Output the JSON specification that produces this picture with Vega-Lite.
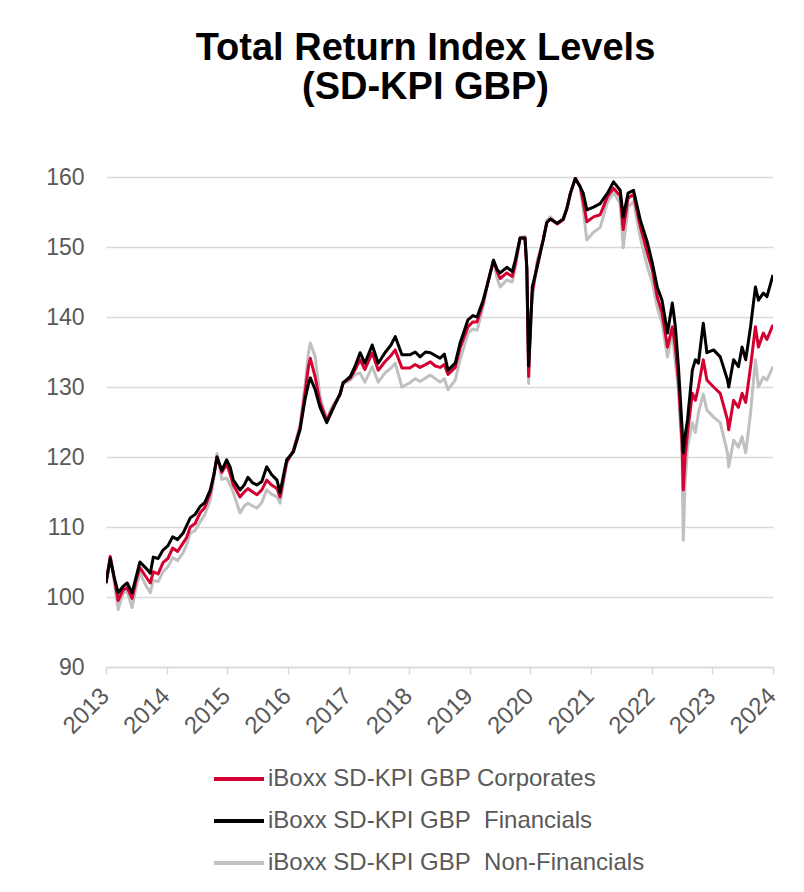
{
  "$schema": "https://vega.github.io/schema/vega-lite/v6.json",
  "width": 667,
  "height": 490,
  "autosize": "none",
  "padding": {"left": 106, "top": 177, "right": 31, "bottom": 225},
  "background": "#ffffff",
  "title": {
    "text": ["Total Return Index Levels", "(SD-KPI GBP)"],
    "font": "Liberation Sans",
    "fontSize": 38,
    "fontWeight": "bold",
    "color": "#000000",
    "lineHeight": 39,
    "anchor": "middle",
    "offset": 59,
    "dx": -14
  },
  "data": {
    "values": [
      {"t": 2013.00, "Fin": 102.0, "Corp": 102.0, "NonFin": 101.8},
      {"t": 2013.07, "Fin": 105.5, "Corp": 105.8, "NonFin": 105.8},
      {"t": 2013.13, "Fin": 103.0, "Corp": 103.0, "NonFin": 102.5},
      {"t": 2013.20, "Fin": 100.6, "Corp": 99.5, "NonFin": 98.2},
      {"t": 2013.28, "Fin": 101.5, "Corp": 101.0, "NonFin": 100.5},
      {"t": 2013.35, "Fin": 102.0, "Corp": 101.3, "NonFin": 100.8},
      {"t": 2013.43, "Fin": 100.6, "Corp": 99.8, "NonFin": 98.5},
      {"t": 2013.50, "Fin": 103.0, "Corp": 102.5, "NonFin": 101.5},
      {"t": 2013.56, "Fin": 105.0, "Corp": 104.2, "NonFin": 103.4},
      {"t": 2013.65, "Fin": 104.2, "Corp": 103.0, "NonFin": 101.8},
      {"t": 2013.73, "Fin": 103.4, "Corp": 102.0, "NonFin": 100.6},
      {"t": 2013.78, "Fin": 105.7, "Corp": 103.6, "NonFin": 102.4},
      {"t": 2013.86, "Fin": 105.5, "Corp": 103.3, "NonFin": 102.2},
      {"t": 2013.94, "Fin": 106.7, "Corp": 104.9, "NonFin": 103.6},
      {"t": 2014.02, "Fin": 107.3, "Corp": 105.5, "NonFin": 104.3},
      {"t": 2014.10, "Fin": 108.6, "Corp": 107.0, "NonFin": 105.6},
      {"t": 2014.18, "Fin": 108.2, "Corp": 106.5, "NonFin": 105.2},
      {"t": 2014.27, "Fin": 109.1, "Corp": 107.7, "NonFin": 106.3},
      {"t": 2014.33, "Fin": 110.2, "Corp": 108.5, "NonFin": 107.5},
      {"t": 2014.39, "Fin": 111.3, "Corp": 110.0, "NonFin": 109.1},
      {"t": 2014.47, "Fin": 111.8, "Corp": 110.5, "NonFin": 109.5},
      {"t": 2014.55, "Fin": 112.9, "Corp": 112.0, "NonFin": 110.7},
      {"t": 2014.63, "Fin": 113.5, "Corp": 112.8, "NonFin": 111.8},
      {"t": 2014.72, "Fin": 115.3, "Corp": 114.9, "NonFin": 113.9},
      {"t": 2014.78, "Fin": 117.5, "Corp": 117.5, "NonFin": 117.0},
      {"t": 2014.83, "Fin": 120.0, "Corp": 120.0, "NonFin": 120.5},
      {"t": 2014.91, "Fin": 118.1, "Corp": 117.8, "NonFin": 116.8},
      {"t": 2014.99, "Fin": 119.6, "Corp": 119.0, "NonFin": 117.0},
      {"t": 2015.05, "Fin": 118.5, "Corp": 117.5, "NonFin": 116.0},
      {"t": 2015.10, "Fin": 116.7, "Corp": 116.0, "NonFin": 114.9},
      {"t": 2015.21, "Fin": 115.3, "Corp": 114.3, "NonFin": 112.0},
      {"t": 2015.28, "Fin": 116.0, "Corp": 115.0, "NonFin": 113.0},
      {"t": 2015.34, "Fin": 117.1, "Corp": 115.5, "NonFin": 113.4},
      {"t": 2015.42, "Fin": 116.3, "Corp": 115.0, "NonFin": 113.0},
      {"t": 2015.49, "Fin": 116.0, "Corp": 114.6, "NonFin": 112.7},
      {"t": 2015.57, "Fin": 116.5, "Corp": 115.3, "NonFin": 113.5},
      {"t": 2015.65, "Fin": 118.6, "Corp": 116.7, "NonFin": 115.3},
      {"t": 2015.73, "Fin": 117.5, "Corp": 116.0, "NonFin": 114.7},
      {"t": 2015.82, "Fin": 116.7, "Corp": 115.5, "NonFin": 114.3},
      {"t": 2015.87, "Fin": 114.9, "Corp": 114.3, "NonFin": 113.4},
      {"t": 2015.93, "Fin": 117.5, "Corp": 117.0, "NonFin": 116.5},
      {"t": 2015.98, "Fin": 119.6, "Corp": 119.3, "NonFin": 119.0},
      {"t": 2016.09, "Fin": 120.7, "Corp": 120.9, "NonFin": 121.0},
      {"t": 2016.20, "Fin": 123.9, "Corp": 124.2, "NonFin": 124.5},
      {"t": 2016.28, "Fin": 128.1, "Corp": 129.0, "NonFin": 130.0},
      {"t": 2016.34, "Fin": 130.5, "Corp": 133.0, "NonFin": 135.0},
      {"t": 2016.37, "Fin": 131.3, "Corp": 134.1, "NonFin": 136.3},
      {"t": 2016.45, "Fin": 129.6, "Corp": 131.4, "NonFin": 134.3},
      {"t": 2016.53, "Fin": 127.1, "Corp": 127.8, "NonFin": 128.5},
      {"t": 2016.64, "Fin": 124.9, "Corp": 125.2, "NonFin": 125.5},
      {"t": 2016.75, "Fin": 127.0, "Corp": 127.2, "NonFin": 127.5},
      {"t": 2016.86, "Fin": 129.0, "Corp": 129.0, "NonFin": 128.8},
      {"t": 2016.91, "Fin": 130.6, "Corp": 130.6, "NonFin": 130.4},
      {"t": 2017.03, "Fin": 131.5, "Corp": 131.3, "NonFin": 131.0},
      {"t": 2017.11, "Fin": 133.0, "Corp": 132.5, "NonFin": 131.8},
      {"t": 2017.19, "Fin": 134.9, "Corp": 133.9, "NonFin": 132.0},
      {"t": 2017.27, "Fin": 133.4, "Corp": 132.5, "NonFin": 130.7},
      {"t": 2017.39, "Fin": 136.0, "Corp": 134.9, "NonFin": 132.9},
      {"t": 2017.49, "Fin": 133.4, "Corp": 132.4, "NonFin": 130.7},
      {"t": 2017.60, "Fin": 134.9, "Corp": 133.6, "NonFin": 132.0},
      {"t": 2017.70, "Fin": 136.0, "Corp": 134.5, "NonFin": 132.7},
      {"t": 2017.77, "Fin": 137.2, "Corp": 135.3, "NonFin": 133.4},
      {"t": 2017.88, "Fin": 134.6, "Corp": 132.7, "NonFin": 130.0},
      {"t": 2018.01, "Fin": 134.6, "Corp": 132.7, "NonFin": 130.6},
      {"t": 2018.10, "Fin": 135.0, "Corp": 133.2, "NonFin": 131.2},
      {"t": 2018.18, "Fin": 134.3, "Corp": 132.8, "NonFin": 130.8},
      {"t": 2018.27, "Fin": 135.0, "Corp": 133.2, "NonFin": 131.3},
      {"t": 2018.35, "Fin": 134.9, "Corp": 133.6, "NonFin": 131.7},
      {"t": 2018.43, "Fin": 134.5, "Corp": 133.0, "NonFin": 131.2},
      {"t": 2018.51, "Fin": 134.1, "Corp": 132.8, "NonFin": 130.7},
      {"t": 2018.58, "Fin": 134.7, "Corp": 133.2, "NonFin": 131.2},
      {"t": 2018.64, "Fin": 132.4, "Corp": 131.8, "NonFin": 129.6},
      {"t": 2018.76, "Fin": 133.4, "Corp": 132.8, "NonFin": 131.0},
      {"t": 2018.84, "Fin": 136.3, "Corp": 135.6, "NonFin": 133.9},
      {"t": 2018.97, "Fin": 139.6, "Corp": 138.6, "NonFin": 137.7},
      {"t": 2019.05, "Fin": 140.2, "Corp": 139.3, "NonFin": 138.3},
      {"t": 2019.12, "Fin": 140.0, "Corp": 139.3, "NonFin": 138.1},
      {"t": 2019.22, "Fin": 142.4, "Corp": 142.0, "NonFin": 141.5},
      {"t": 2019.30, "Fin": 145.0, "Corp": 145.0, "NonFin": 145.0},
      {"t": 2019.39, "Fin": 148.1, "Corp": 148.1, "NonFin": 148.0},
      {"t": 2019.45, "Fin": 146.8, "Corp": 146.5, "NonFin": 145.5},
      {"t": 2019.50, "Fin": 146.3, "Corp": 145.5, "NonFin": 144.3},
      {"t": 2019.61, "Fin": 147.1, "Corp": 146.3, "NonFin": 145.3},
      {"t": 2019.70, "Fin": 146.5, "Corp": 145.8, "NonFin": 145.0},
      {"t": 2019.75, "Fin": 148.1, "Corp": 147.6, "NonFin": 147.0},
      {"t": 2019.83, "Fin": 151.3, "Corp": 151.3, "NonFin": 151.3},
      {"t": 2019.91, "Fin": 151.3, "Corp": 151.3, "NonFin": 151.5},
      {"t": 2019.94, "Fin": 147.0, "Corp": 147.0, "NonFin": 147.0},
      {"t": 2019.97, "Fin": 133.0, "Corp": 131.5, "NonFin": 130.5},
      {"t": 2020.00, "Fin": 138.0, "Corp": 139.0, "NonFin": 140.0},
      {"t": 2020.03, "Fin": 144.3, "Corp": 143.5, "NonFin": 142.5},
      {"t": 2020.11, "Fin": 147.1, "Corp": 147.5, "NonFin": 148.0},
      {"t": 2020.21, "Fin": 151.0, "Corp": 151.0, "NonFin": 151.0},
      {"t": 2020.27, "Fin": 153.5, "Corp": 153.5, "NonFin": 153.8},
      {"t": 2020.33, "Fin": 154.0, "Corp": 154.0, "NonFin": 154.3},
      {"t": 2020.44, "Fin": 153.4, "Corp": 153.3, "NonFin": 153.3},
      {"t": 2020.54, "Fin": 154.0, "Corp": 153.9, "NonFin": 153.9},
      {"t": 2020.60, "Fin": 155.5, "Corp": 155.5, "NonFin": 155.3},
      {"t": 2020.66, "Fin": 157.7, "Corp": 157.7, "NonFin": 157.7},
      {"t": 2020.74, "Fin": 159.8, "Corp": 159.8, "NonFin": 160.0},
      {"t": 2020.82, "Fin": 158.6, "Corp": 158.6, "NonFin": 158.6},
      {"t": 2020.87, "Fin": 157.7, "Corp": 156.5, "NonFin": 155.3},
      {"t": 2020.93, "Fin": 155.3, "Corp": 153.6, "NonFin": 151.0},
      {"t": 2021.04, "Fin": 155.7, "Corp": 154.3, "NonFin": 152.1},
      {"t": 2021.15, "Fin": 156.2, "Corp": 154.6, "NonFin": 152.8},
      {"t": 2021.27, "Fin": 157.7, "Corp": 157.2, "NonFin": 156.4},
      {"t": 2021.37, "Fin": 159.3, "Corp": 158.4, "NonFin": 157.8},
      {"t": 2021.48, "Fin": 158.1, "Corp": 157.3, "NonFin": 156.2},
      {"t": 2021.53, "Fin": 154.3, "Corp": 152.5, "NonFin": 149.9},
      {"t": 2021.61, "Fin": 157.7, "Corp": 157.0, "NonFin": 155.7},
      {"t": 2021.70, "Fin": 158.1, "Corp": 157.5, "NonFin": 156.5},
      {"t": 2021.81, "Fin": 153.9, "Corp": 153.0, "NonFin": 151.4},
      {"t": 2021.93, "Fin": 150.6, "Corp": 149.1, "NonFin": 147.1},
      {"t": 2022.01, "Fin": 147.7, "Corp": 146.7, "NonFin": 144.9},
      {"t": 2022.09, "Fin": 144.3, "Corp": 142.9, "NonFin": 141.4},
      {"t": 2022.17, "Fin": 142.4, "Corp": 140.6, "NonFin": 139.1},
      {"t": 2022.26, "Fin": 137.7, "Corp": 135.7, "NonFin": 134.3},
      {"t": 2022.34, "Fin": 142.0, "Corp": 138.6, "NonFin": 137.7},
      {"t": 2022.39, "Fin": 138.6, "Corp": 135.7, "NonFin": 133.5},
      {"t": 2022.44, "Fin": 132.9, "Corp": 131.0, "NonFin": 129.6},
      {"t": 2022.50, "Fin": 124.3, "Corp": 122.0, "NonFin": 120.6},
      {"t": 2022.52, "Fin": 120.6, "Corp": 115.3, "NonFin": 108.1},
      {"t": 2022.55, "Fin": 123.0, "Corp": 120.0, "NonFin": 116.0},
      {"t": 2022.59, "Fin": 125.3, "Corp": 123.4, "NonFin": 121.4},
      {"t": 2022.67, "Fin": 132.4, "Corp": 129.1, "NonFin": 124.9},
      {"t": 2022.72, "Fin": 133.9, "Corp": 128.1, "NonFin": 123.5},
      {"t": 2022.77, "Fin": 133.4, "Corp": 130.0, "NonFin": 126.3},
      {"t": 2022.85, "Fin": 139.1, "Corp": 133.9, "NonFin": 129.0},
      {"t": 2022.91, "Fin": 134.9, "Corp": 131.0, "NonFin": 126.7},
      {"t": 2023.02, "Fin": 135.3, "Corp": 130.0, "NonFin": 125.7},
      {"t": 2023.13, "Fin": 134.3, "Corp": 129.1, "NonFin": 124.9},
      {"t": 2023.25, "Fin": 131.0, "Corp": 125.3, "NonFin": 120.6},
      {"t": 2023.27, "Fin": 130.0, "Corp": 123.9, "NonFin": 118.6},
      {"t": 2023.35, "Fin": 133.9, "Corp": 128.1, "NonFin": 122.4},
      {"t": 2023.43, "Fin": 132.9, "Corp": 127.1, "NonFin": 121.4},
      {"t": 2023.49, "Fin": 135.7, "Corp": 129.1, "NonFin": 122.9},
      {"t": 2023.55, "Fin": 133.9, "Corp": 127.8, "NonFin": 120.6},
      {"t": 2023.63, "Fin": 138.6, "Corp": 132.9, "NonFin": 126.3},
      {"t": 2023.71, "Fin": 144.3, "Corp": 138.6, "NonFin": 133.9},
      {"t": 2023.76, "Fin": 142.4, "Corp": 135.7, "NonFin": 130.0},
      {"t": 2023.84, "Fin": 143.4, "Corp": 137.7, "NonFin": 131.4},
      {"t": 2023.90, "Fin": 142.9, "Corp": 136.8, "NonFin": 131.0},
      {"t": 2024.00, "Fin": 146.0, "Corp": 138.9, "NonFin": 132.9}
    ]
  },
  "transform": [
    {"fold": ["NonFin", "Corp", "Fin"], "as": ["series", "value"]}
  ],
  "mark": {"type": "line", "strokeWidth": 3, "strokeJoin": "round", "clip": true},
  "encoding": {
    "x": {
      "field": "t",
      "type": "quantitative",
      "scale": {"domain": [2013, 2024], "nice": false, "zero": false},
      "axis": {
        "title": null,
        "values": [2013, 2014, 2015, 2016, 2017, 2018, 2019, 2020, 2021, 2022, 2023, 2024],
        "format": "d",
        "grid": false,
        "domain": true,
        "domainColor": "#d9d9d9",
        "domainWidth": 1.5,
        "ticks": true,
        "tickColor": "#d9d9d9",
        "tickSize": 7,
        "tickWidth": 1.5,
        "labelAngle": -45,
        "labelAlign": "right",
        "labelBaseline": "middle",
        "labelOffset": -1,
        "labelPadding": 18,
        "labelFont": "Liberation Sans",
        "labelFontSize": 24,
        "labelColor": "#595959",
        "labelOverlap": false
      }
    },
    "y": {
      "field": "value",
      "type": "quantitative",
      "scale": {"domain": [90, 160], "nice": false, "zero": false},
      "axis": {
        "title": null,
        "values": [90, 100, 110, 120, 130, 140, 150, 160],
        "grid": true,
        "gridColor": "#d9d9d9",
        "gridWidth": 1.5,
        "domain": false,
        "ticks": false,
        "labelPadding": 22,
        "labelFont": "Liberation Sans",
        "labelFontSize": 23,
        "labelColor": "#595959"
      }
    },
    "color": {
      "field": "series",
      "type": "nominal",
      "scale": {
        "domain": ["Corp", "Fin", "NonFin"],
        "range": ["#d50032", "#000000", "#c0c0c0"]
      },
      "legend": {
        "title": null,
        "orient": "none",
        "legendX": 111,
        "legendY": 580,
        "direction": "vertical",
        "padding": 0,
        "symbolType": "M -1.25 0 H 1.25",
        "symbolSize": 1600,
        "symbolStrokeWidth": 4,
        "rowPadding": 8,
        "labelOffset": 7,
        "labelFont": "Liberation Sans",
        "labelFontSize": 24,
        "labelColor": "#595959",
        "labelLimit": 600,
        "labelExpr": "datum.value == 'Corp' ? 'iBoxx SD-KPI GBP Corporates' : datum.value == 'Fin' ? 'iBoxx SD-KPI GBP\u00a0 Financials' : 'iBoxx SD-KPI GBP\u00a0 Non-Financials'"
      }
    }
  },
  "config": {
    "view": {"stroke": null}
  }
}
